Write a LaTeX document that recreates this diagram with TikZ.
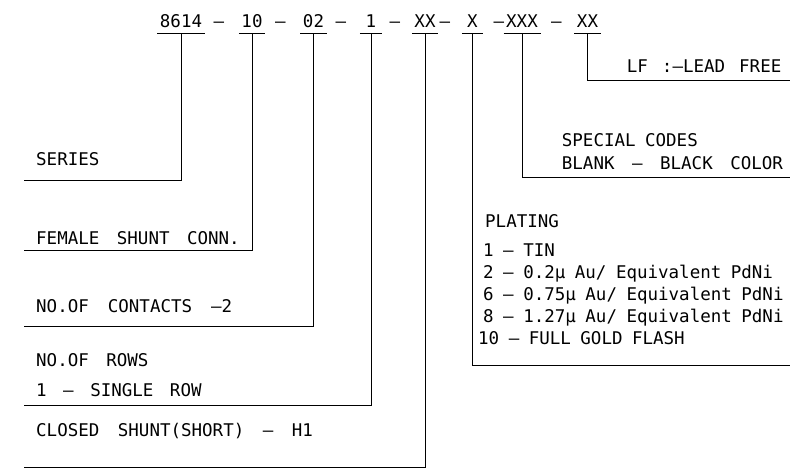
\documentclass[tikz,border=0pt]{standalone}
\usepackage{fontspec}
\newfontfamily\cadfont{DejaVu Sans Mono}
\newcommand\cadat[1]{\cadfont\fontsize{17.5}{21}\selectfont\spaceskip #1\relax}
\tikzset{
  cadtext/.style={font=\cadat{17.5pt}, inner sep=0pt, anchor=base west},
  gap/.style={font=\cadat{#1}},
  part/.style={font=\cadat{14pt}, inner ysep=0pt, inner xsep=2.5pt, anchor=base},
  leader/.style={line width=1pt},
}

\begin{document}
\begin{tikzpicture}[x=1pt,y=-1pt]
\useasboundingbox (0,0) rectangle (795,473);
% part number
\node[part] (pser) at (181,28) {8614};
\node[part] (d1) at (219,28) {–};
\node[part] (pcon) at (252,28) {10};
\node[part] (d2) at (280.5,28) {–};
\node[part] (pcnt) at (313.5,28) {02};
\node[part] (d3) at (341,28) {–};
\node[part,minimum width=22pt] (prow) at (371,28) {1};
\node[part] (d4) at (395,28) {–};
\node[part] (pshu) at (425,28) {XX};
\node[part] (d5) at (445,28) {–};
\node[part,minimum width=21pt] (pplt) at (472.5,28) {X};
\node[part] (d6) at (499,28) {–};
\node[part] (pspc) at (522,28) {XXX};
\node[part] (d7) at (556.5,28) {–};
\node[part] (plf) at (587.5,28) {XX};
\foreach \p in {pser,pcon,pcnt,prow,pshu,pplt,pspc,plf}
  \draw[leader] ([yshift=-5pt]\p.south west) -- ([yshift=-5pt]\p.south east);

% labels on the left
\node[cadtext] (ser) at (36,166) {SERIES};
\node[cadtext] (con) at (36,244) {FEMALE SHUNT CONN.};
\node[cadtext,gap=19pt] (cnt) at (36,312.7) {NO.OF CONTACTS –2};
\node[cadtext] (row) at (36,366.7) {NO.OF ROWS};
\node[cadtext,gap=16.5pt] (rowa) at (36,396.7) {1 – SINGLE ROW};
\node[cadtext,gap=18.5pt] (shu) at (36,436.7) {CLOSED SHUNT(SHORT) – H1};

% labels on the right
\node[cadtext,gap=14pt] (lf) at (626.7,73) {LF :–LEAD FREE};
\node[cadtext,gap=9.5pt] (spc) at (561.7,146.7) {SPECIAL CODES};
\node[cadtext] (spca) at (561.7,170) {BLANK – BLACK COLOR};
\node[cadtext,gap=9.5pt] (plt) at (485,228) {PLATING};
\node[cadtext,gap=9.5pt] (plta) at (483,256) {1 – TIN};
\node[cadtext,gap=9.5pt] (pltb) at (483,278) {2 – 0.2µ Au/ Equivalent PdNi};
\node[cadtext,gap=9.5pt] (pltc) at (483,300) {6 – 0.75µ Au/ Equivalent PdNi};
\node[cadtext,gap=9.5pt] (pltd) at (483,322) {8 – 1.27µ Au/ Equivalent PdNi};
\node[cadtext,gap=9.5pt] (plte) at (478,344) {10 – FULL GOLD FLASH};

% leaders
\coordinate (eser) at (24,181);
\coordinate (econ) at (24,250);
\coordinate (ecnt) at (24,326);
\coordinate (erow) at (24,405);
\coordinate (eshu) at (24,467);
\coordinate (eplt) at (790,365);
\coordinate (espc) at (790,178);
\coordinate (elf) at (790,81);
\draw[leader] ([yshift=-5pt]pser.south) |- (eser);
\draw[leader] ([yshift=-5pt]pcon.south) |- (econ);
\draw[leader] ([yshift=-5pt]pcnt.south) |- (ecnt);
\draw[leader] ([yshift=-5pt]prow.south) |- (erow);
\draw[leader] ([yshift=-5pt]pshu.south) |- (eshu);
\draw[leader] ([yshift=-5pt]pplt.south) |- (eplt);
\draw[leader] ([yshift=-5pt]pspc.south) |- (espc);
\draw[leader] ([yshift=-5pt]plf.south) |- (elf);
\end{tikzpicture}
\end{document}
